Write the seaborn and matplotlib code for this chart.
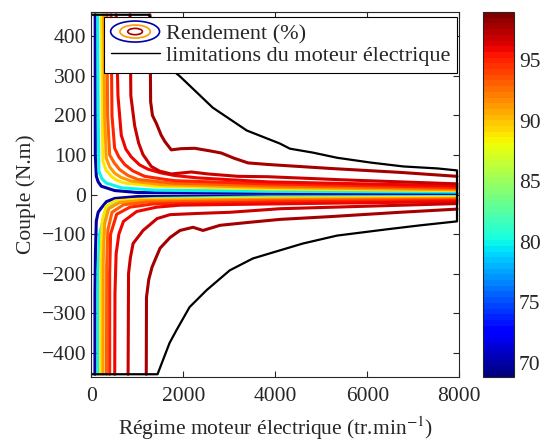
import numpy as np
import matplotlib
matplotlib.use("Agg")
import matplotlib.pyplot as plt
import seaborn as sns
from matplotlib.patches import Ellipse
from matplotlib.lines import Line2D
from matplotlib.legend_handler import HandlerBase
from matplotlib.colors import Normalize
from matplotlib.cm import ScalarMappable

# efficiency contour levels (%)
levels = [70, 80, 89, 91, 93, 95, 96, 97, 98]

# upper branches (motor torque > 0): speed (rpm) / torque (N.m)
up70_rpm = [85, 87, 110, 150, 217, 508, 1015, 3841, 7950]
up70_nm = [455, 100, 46, 32, 21, 10, 5, 3.5, 3]
up80_rpm = [140, 150, 165, 230, 326, 652, 1378, 3841, 7950]
up80_nm = [455, 200, 59, 40, 29, 17, 11, 8, 6]
up89_rpm = [220, 240, 254, 320, 435, 550, 726, 1378, 3841, 7950]
up89_nm = [455, 200, 84, 62, 46, 36, 29, 21, 14, 10]
up91_rpm = [270, 290, 326, 400, 508, 650, 870, 1522, 3841, 7950]
up91_nm = [455, 200, 92, 70, 54, 43, 34, 25, 18, 12]
up93_rpm = [340, 355, 400, 500, 617, 800, 1015, 1739, 3841, 7950]
up93_nm = [455, 200, 100, 80, 63, 48, 38, 29, 22, 15]
up95_rpm = [430, 450, 508, 600, 726, 900, 1161, 1500, 1813, 3841, 7950]
up95_nm = [455, 200, 117, 95, 76, 60, 46, 40, 35, 27, 18]
up96_rpm = [540, 580, 652, 750, 870, 1050, 1233, 1500, 1813, 2320, 3841, 7950]
up96_nm = [455, 250, 150, 115, 95, 75, 64, 55, 48, 42, 32, 22]
up97_rpm = [843, 860, 943, 1030, 1124, 1304, 1487, 1739, 2000, 2174, 2537, 3189, 3841, 5500, 7950]
up97_nm = [455, 250, 174, 130, 101, 71, 59, 52, 55, 57, 52, 46, 45, 37, 27]
up98_rpm = [1276, 1290, 1330, 1415, 1520, 1600, 1739, 1950, 2248, 2600, 2826, 3100, 3407, 3841,
            5189, 6711, 7950]
up98_nm = [455, 235, 200, 180, 150, 134, 113, 116, 117, 110, 105, 92, 80, 76, 66, 56, 46]

# lower branches (generator torque < 0)
lo70_rpm = [80, 80, 90, 109, 150, 217, 330, 508, 1015, 3841, 7950]
lo70_nm = [-455, -250, -150, -67, -45, -34, -18, -10, -5, -3, -2]
lo80_rpm = [145, 146, 180, 291, 400, 580, 900, 1378, 3841, 7950]
lo80_nm = [-455, -193, -100, -50, -32, -21, -14, -10, -6, -5]
lo89_rpm = [205, 210, 240, 320, 520, 1000, 3841, 7950]
lo89_nm = [-455, -160, -65, -30, -16, -12, -9, -7]
lo91_rpm = [255, 260, 290, 380, 620, 1100, 3841, 7950]
lo91_nm = [-455, -170, -75, -36, -20, -15, -12, -10]
lo93_rpm = [330, 335, 360, 450, 700, 1200, 3841, 7950]
lo93_nm = [-455, -180, -90, -45, -26, -19, -15, -12]
lo95_rpm = [400, 400, 420, 552, 841, 1341, 3841, 7950]
lo95_nm = [-455, -200, -100, -50, -32, -24, -19, -15]
lo96_rpm = [510, 515, 540, 600, 700, 987, 1422, 1928, 3841, 7950]
lo96_nm = [-455, -250, -150, -100, -68, -43, -32, -27, -24, -18]
lo97_rpm = [800, 810, 850, 909, 1126, 1430, 1711, 2298, 3015, 4102, 7950]
lo97_nm = [-455, -200, -160, -124, -91, -61, -51, -48, -45, -36, -23]
lo98_rpm = [1195, 1200, 1250, 1320, 1494, 1711, 1928, 2211, 2428, 2798, 3385, 4102, 5189, 6711, 7950]
lo98_nm = [-455, -260, -215, -184, -136, -109, -91, -83, -91, -78, -71, -63, -56, -45, -37]

# torque limit of the electric motor
lim_rpm = [0, 1250, 1330, 1854, 1919, 2639, 3380, 4100, 4318, 4820, 5343, 6063, 6783, 7524, 7950,
           7950, 7154, 6434, 5343, 4602, 3882, 3511, 3010, 2508, 2137, 1854, 1701, 1440, 0]
lim_nm = [455, 455, 440, 306, 300, 220, 162, 129, 116, 106, 93, 81, 71, 66, 61,
          -68, -78, -88, -104, -124, -149, -162, -192, -242, -285, -343, -376, -455, -455]

upper = [(up70_rpm, up70_nm), (up80_rpm, up80_nm), (up89_rpm, up89_nm), (up91_rpm, up91_nm),
         (up93_rpm, up93_nm), (up95_rpm, up95_nm), (up96_rpm, up96_nm), (up97_rpm, up97_nm),
         (up98_rpm, up98_nm)]
lower = [(lo70_rpm, lo70_nm), (lo80_rpm, lo80_nm), (lo89_rpm, lo89_nm), (lo91_rpm, lo91_nm),
         (lo93_rpm, lo93_nm), (lo95_rpm, lo95_nm), (lo96_rpm, lo96_nm), (lo97_rpm, lo97_nm),
         (lo98_rpm, lo98_nm)]

sns.set_style("ticks")
plt.rcParams['font.family'] = ['Liberation Serif', 'DejaVu Serif']
plt.rcParams['mathtext.fontset'] = 'stix'
plt.rcParams['font.size'] = 15.5

cmap = plt.get_cmap('jet', 64)
norm = Normalize(68.8, 99.0)


class RingsProxy:
    pass


class HandlerRings(HandlerBase):
    def create_artists(self, legend, orig_handle, xdescent, ydescent, width, height, fontsize, trans):
        cx = width / 2 - xdescent
        cy = height / 2 - ydescent
        arts = []
        for frac, col in zip([1.0, 0.62, 0.3], [cmap(norm(70)), cmap(norm(91)), cmap(norm(98))]):
            arts.append(Ellipse((cx, cy), width * frac, height * 1.35 * frac, fill=False,
                                edgecolor=col, lw=1.2, transform=trans))
        return arts


fig = plt.figure(figsize=(5.44, 4.41), dpi=100)
ax = fig.add_axes([0.1678, 0.1451, 0.6765, 0.8277])

for lev, (xs, ys), (xl, yl) in zip(levels, upper, lower):
    col = cmap(norm(lev))
    sns.lineplot(x=xs, y=ys, sort=False, estimator=None, color=col, lw=2.2, ax=ax)
    sns.lineplot(x=xl, y=yl, sort=False, estimator=None, color=col, lw=2.2, ax=ax)

sns.lineplot(x=lim_rpm, y=lim_nm, sort=False, estimator=None, color='black', lw=1.6, ax=ax)

ax.set_xlim(0, 8000)
ax.set_ylim(-462, 462)
ax.set_xticks([0, 2000, 4000, 6000, 8000])
ax.set_yticks(np.arange(-400, 401, 100))
ax.tick_params(direction='in', top=True, right=True, length=4, width=0.8, labelsize=15.5)
ax.tick_params(axis='x', pad=7)
for s in ax.spines.values():
    s.set_linewidth(0.8)
ax.set_xlabel(r'Régime moteur électrique (tr.min$^{-1}$)', fontsize=15.5, labelpad=6)
ax.set_ylabel('Couple (N.m)', fontsize=15.5)

handles = [RingsProxy(), Line2D([], [], color='black', lw=1.0)]
leg = ax.legend(handles, ['Rendement (%)', 'limitations du moteur électrique'],
                handler_map={RingsProxy: HandlerRings()},
                loc='upper left', bbox_to_anchor=(0.0345, 0.986), borderaxespad=0,
                fontsize=16, handlelength=2.2, handletextpad=0.3, labelspacing=0.05,
                borderpad=0.3, fancybox=False, framealpha=1, edgecolor='black')
leg.get_frame().set_linewidth(0.8)

cax = fig.add_axes([0.8879, 0.1451, 0.057, 0.8277])
sm = ScalarMappable(norm=norm, cmap=cmap)
cb = fig.colorbar(sm, cax=cax, ticks=[70, 75, 80, 85, 90, 95])
cb.outline.set_linewidth(0.8)
cax.tick_params(direction='in', left=True, right=True, length=4, width=0.8, labelsize=15.5)

fig.savefig('out.png', dpi=100)
